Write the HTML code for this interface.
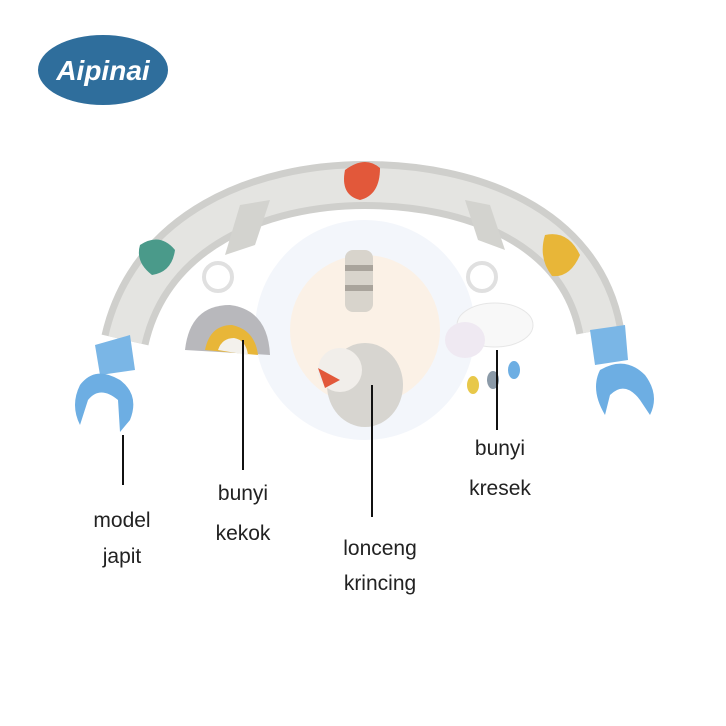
<!DOCTYPE html>
<html><head><style>
body{margin:0;width:726px;height:726px;background:#fff;overflow:hidden}
svg{display:block}
text{font-family:"Liberation Sans",sans-serif}
.l{font-family:"Liberation Sans",sans-serif;font-size:21px;fill:#222}
</style></head><body>
<svg width="726" height="726" viewBox="0 0 726 726">
<ellipse cx="103" cy="70" rx="65" ry="35" fill="#2f6e9c"/>
<text x="103" y="80" text-anchor="middle" font-size="28" font-weight="bold" font-style="italic" fill="#fff">Aipinai</text>
<!-- watermark -->
<circle cx="365" cy="330" r="110" fill="#f3f6fb"/>
<circle cx="365" cy="330" r="75" fill="#fbf1e6"/>
<!-- arch -->
<path d="M125 340 C150 230 260 185 365 185 C470 185 580 225 600 330" fill="none" stroke="#cfcfcc" stroke-width="48"/>
<path d="M125 340 C150 230 260 185 365 185 C470 185 580 225 600 330" fill="none" stroke="#e4e4e1" stroke-width="34"/>
<path d="M240 205 L270 200 L255 245 L225 255Z" fill="#d3d3cf"/>
<path d="M465 200 L490 205 L505 250 L478 240Z" fill="#d3d3cf"/>
<!-- leaves -->
<path d="M345 170 Q365 155 380 168 Q380 195 360 200 Q340 195 345 170Z" fill="#e2583a"/>
<path d="M140 245 Q160 232 175 250 Q172 272 152 275 Q135 262 140 245Z" fill="#4a9a8a"/>
<path d="M545 235 Q568 230 580 255 Q570 278 552 276 Q538 258 545 235Z" fill="#e8b638"/>
<!-- clips -->
<path d="M95 345 L130 335 L135 370 L100 375Z" fill="#7ab6e6"/>
<path d="M80 385 Q95 365 120 380 Q140 395 130 420 L120 432 L118 400 Q100 385 88 400 L80 425 Q70 405 80 385Z" fill="#6daee3"/>
<path d="M590 330 L625 325 L628 360 L595 365Z" fill="#7ab6e6"/>
<path d="M600 370 Q625 355 645 375 Q660 395 650 415 L640 400 Q625 380 610 395 L605 415 Q590 390 600 370Z" fill="#6daee3"/>
<!-- hanging toys -->
<circle cx="218" cy="277" r="14" fill="none" stroke="#e0e0e0" stroke-width="4"/>
<path d="M185 350 Q190 305 230 305 Q268 310 270 355 Z" fill="#b8b8bc"/>
<path d="M205 350 Q210 325 232 325 Q255 330 258 355 Z" fill="#e8b638"/>
<path d="M218 350 Q222 338 234 338 Q246 340 248 355 Z" fill="#f3f1ec"/>
<rect x="345" y="250" width="28" height="62" rx="8" fill="#d8d4cc"/>
<rect x="345" y="265" width="28" height="6" fill="#a9a49c"/>
<rect x="345" y="285" width="28" height="6" fill="#a9a49c"/>
<ellipse cx="365" cy="385" rx="38" ry="42" fill="#d7d5d0"/>
<circle cx="340" cy="370" r="22" fill="#f1eeea"/>
<path d="M318 368 L325 388 L340 380Z" fill="#e2583a"/>
<circle cx="482" cy="277" r="14" fill="none" stroke="#e0e0e0" stroke-width="4"/>
<ellipse cx="495" cy="325" rx="38" ry="22" fill="#f8f8f8" stroke="#e6e6e6"/>
<ellipse cx="465" cy="340" rx="20" ry="18" fill="#efe9f2"/>
<ellipse cx="473" cy="385" rx="6" ry="9" fill="#e8c84a"/>
<ellipse cx="493" cy="380" rx="6" ry="9" fill="#8b9aa8"/>
<ellipse cx="514" cy="370" rx="6" ry="9" fill="#6daee3"/>
<!-- lines -->
<line x1="123" y1="435" x2="123" y2="485" stroke="#111" stroke-width="2"/>
<line x1="243" y1="340" x2="243" y2="470" stroke="#111" stroke-width="2"/>
<line x1="372" y1="385" x2="372" y2="517" stroke="#111" stroke-width="2"/>
<line x1="497" y1="350" x2="497" y2="430" stroke="#111" stroke-width="2"/>
<!-- labels -->
<text class="l" x="122" y="527" text-anchor="middle">model</text>
<text class="l" x="122" y="563" text-anchor="middle">japit</text>
<text class="l" x="243" y="500" text-anchor="middle">bunyi</text>
<text class="l" x="243" y="540" text-anchor="middle">kekok</text>
<text class="l" x="380" y="555" text-anchor="middle">lonceng</text>
<text class="l" x="380" y="590" text-anchor="middle">krincing</text>
<text class="l" x="500" y="455" text-anchor="middle">bunyi</text>
<text class="l" x="500" y="495" text-anchor="middle">kresek</text>
</svg>
</body></html>
